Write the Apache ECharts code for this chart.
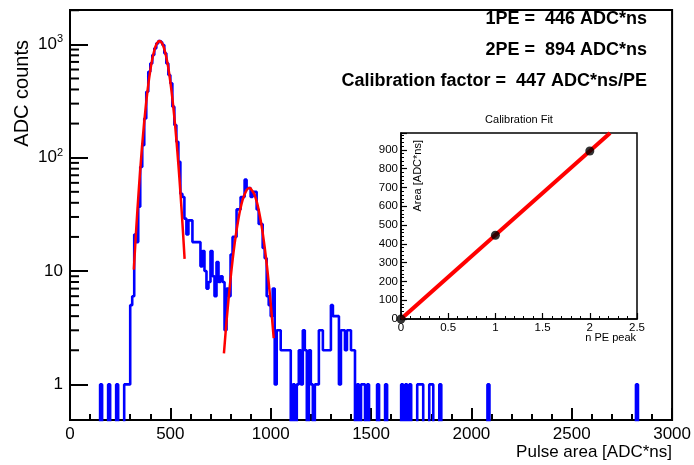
<!DOCTYPE html>
<html><head><meta charset="utf-8">
<script src="https://cdn.jsdelivr.net/npm/echarts@6/dist/echarts.min.js"></script>
<style>html,body{margin:0;padding:0;background:#fff}#c{width:694px;height:465px}</style>
</head><body><div id="c"></div>
<script>
// ---------- data ----------
const binWidth = 10;            // ADC*ns per bin, bins start at 0
const counts = [
  0,0,0,0,0,0,0,0,0,0,
  0,0,0,0,0,1,0,0,0,1,
  0,0,0,1,0,0,0,1,1,1,
  5,6,21,18,37,83,129,222,382,574,
  679,805,922,1021,1071,1034,986,833,679,536,
  453,282,194,138,92,48,45,29,21,28,
  28,18,18,18,18,11,15,10,7,8,
  15,9,6,12,8,9,8,3,7,6,
  14,20,20,35,35,45,45,64,54,54,
  45,50,50,35,26,26,16,13,6,5,
  4,7,1,3,3,2,2,2,2,2,
  0,1,0,1,2,1,3,2,0,2,
  1,0,1,1,3,3,2,2,2,2,
  5,4,4,4,1,3,3,2,3,3,
  2,2,0,1,0,1,1,0,1,0,
  0,0,0,1,0,0,0,1,0,0,
  0,0,0,0,0,1,0,1,0,1,
  0,0,0,1,1,1,0,0,0,1,
  1,0,0,0,1,0,0,0,0,0,
  0,0,0,0,0,0,0,0,0,0,
  0,0,0,0,0,0,0,0,1,0,
  0,0,0,0,0,0,0,0,0,0,
  0,0,0,0,0,0,0,0,0,0,
  0,0,0,0,0,0,0,0,0,0,
  0,0,0,0,0,0,0,0,0,0,
  0,0,0,0,0,0,0,0,0,0,
  0,0,0,0,0,0,0,0,0,0,
  0,0,0,0,0,0,0,0,0,0,
  0,0,1,0,0,0,0,0,0,0,
  0,0,0,0,0,0,0,0,0,0
];
const fit1X = [318,330,340,350,360,370,380,390,400,410,420,430,440,446,450,460,470,480,490,500,510,520,530,540,550,560,571];
const fit1Y = [10.3,23.6,44.3,78.5,131.5,208,311,440,587,741,883,995,1059,1070,1065,1012,909,771,618,468,335,227,145,87.4,49.9,26.9,12.8];
const fit2X = [767,780,800,820,840,860,880,894,900,920,940,960,980,1000,1015];
const fit2Y = [1.88,3.61,8.57,17.3,29.4,42.4,51.8,54,53.6,46.9,34.8,21.8,11.6,5.2,2.56];
const calibN = [0, 1, 2];
const calibArea = [0, 446, 894];
const calibFitX = [0, 2.215];
const calibFitY = [0, 990];
const infoLines = ['1PE =  446 ADC*ns', '2PE =  894 ADC*ns', 'Calibration factor =  447 ADC*ns/PE'];
const xTitle = 'Pulse area [ADC*ns]';
const yTitle = 'ADC counts';
const insetTitle = 'Calibration Fit';
const insetXTitle = 'n PE peak';
const insetYTitle = 'Area [ADC*ns]';

// ---------- build ----------
const FLOOR = 1e-3;
const histData = counts.map((c, i) => [i * binWidth, c > 0 ? c : FLOOR]);
histData.push([counts.length * binWidth, counts[counts.length - 1] > 0 ? counts[counts.length - 1] : FLOOR]);
const fit1 = fit1X.map((x, i) => [x, fit1Y[i]]);
const fit2 = fit2X.map((x, i) => [x, fit2Y[i]]);
const calibPts = calibN.map((x, i) => [x, calibArea[i]]);
const calibLine = calibFitX.map((x, i) => [x, calibFitY[i]]);
const yMax = 2010, yMin = 0.485;
const minorVals = [];
[1, 10, 100, 1000].forEach(d => { for (let m = 2; m <= 9; m++) { if (m * d < yMax && m * d > yMin) minorVals.push([0, m * d]); } });

const FF = '"Liberation Sans", Arial, sans-serif';
const chart = echarts.init(document.getElementById('c'), null, {renderer: 'canvas'});
function logLabel(v) {
  const l = Math.log10(v);
  const r = Math.round(l);
  if (Math.abs(l - r) > 1e-6 || r < 0) return '';
  if (r === 0) return '1';
  if (r === 1) return '10';
  return '10{sup|' + r + '}';
}
const txt = (x, y, text, size, opts) => Object.assign({
  type: 'text', x: x, y: y, z: 100,
  style: Object.assign({text: text, fill: '#000', font: size + 'px ' + FF,
    textAlign: 'left', textVerticalAlign: 'middle', align: 'left', verticalAlign: 'middle'}, opts && opts.style || {})
}, opts && opts.el || {});

chart.setOption({
  animation: false,
  backgroundColor: '#fff',
  grid: [
    {left: 70, top: 10, width: 605, height: 410, show: true, borderColor: '#000', borderWidth: 2, backgroundColor: 'transparent'},
    {left: 401, top: 133, width: 236, height: 186, show: true, borderColor: '#000', borderWidth: 1.5, backgroundColor: '#fff', z: 5}
  ],
  xAxis: [
    {gridIndex: 0, type: 'value', min: 0, max: 3000, interval: 500,
     axisLine: {show: true, lineStyle: {color: '#000', width: 2}},
     axisTick: {show: true, inside: true, length: 12, lineStyle: {color: '#000', width: 2}},
     minorTick: {show: true, splitNumber: 5, length: 6, lineStyle: {color: '#000', width: 2}},
     axisLabel: {color: '#000', fontSize: 17, fontFamily: FF, margin: 6, formatter: v => String(v)},
     splitLine: {show: false}},
    {gridIndex: 1, type: 'value', min: 0, max: 2.5, interval: 0.5, z: 6,
     axisLine: {show: true, lineStyle: {color: '#000', width: 1.5}},
     axisTick: {show: true, inside: true, length: 6, lineStyle: {color: '#000', width: 1.2}},
     minorTick: {show: true, splitNumber: 5, length: 3, lineStyle: {color: '#000', width: 1}},
     axisLabel: {color: '#000', fontSize: 11.5, fontFamily: FF, margin: 3, formatter: v => String(v)},
     splitLine: {show: false}}
  ],
  yAxis: [
    {gridIndex: 0, type: 'log', logBase: 10, min: yMin, max: yMax,
     axisLine: {show: true, lineStyle: {color: '#000', width: 2}},
     axisTick: {show: true, inside: true, length: 18, lineStyle: {color: '#000', width: 2}},
     axisLabel: {color: '#000', fontSize: 17, fontFamily: FF, margin: 7, formatter: logLabel,
       rich: {sup: {fontSize: 11, fontFamily: FF, color: '#000', verticalAlign: 'top', padding: [0, 0, 10, 0]}}},
     splitLine: {show: false}},
    {gridIndex: 1, type: 'value', min: 0, max: 990, interval: 100, z: 6,
     axisLine: {show: true, lineStyle: {color: '#000', width: 1.5}},
     axisTick: {show: true, inside: true, length: 6, lineStyle: {color: '#000', width: 1.2}},
     minorTick: {show: true, splitNumber: 5, length: 3, lineStyle: {color: '#000', width: 1}},
     axisLabel: {color: '#000', fontSize: 11.5, fontFamily: FF, margin: 3,
       formatter: v => (Math.abs(v % 100) < 1e-9 ? String(v) : '')},
     splitLine: {show: false}}
  ],
  series: [
    {type: 'line', xAxisIndex: 0, yAxisIndex: 0, data: histData, step: 'end', symbol: 'none',
     lineStyle: {color: '#0000ff', width: 2.6}, clip: true, z: 2},
    {type: 'line', xAxisIndex: 0, yAxisIndex: 0, data: fit1, symbol: 'none', smooth: 0.3,
     lineStyle: {color: '#ff0000', width: 2.5}, z: 3},
    {type: 'line', xAxisIndex: 0, yAxisIndex: 0, data: fit2, symbol: 'none', smooth: 0.3,
     lineStyle: {color: '#ff0000', width: 2.5}, z: 3},
    {type: 'custom', xAxisIndex: 0, yAxisIndex: 0, data: minorVals, z: 4, silent: true,
     renderItem: (params, api) => {
       const p = api.coord([0, api.value(1)]);
       return {type: 'line', shape: {x1: p[0], y1: p[1], x2: p[0] + 9, y2: p[1]}, style: {stroke: '#000', lineWidth: 2}};
     }},
    {type: 'line', xAxisIndex: 1, yAxisIndex: 1, data: calibLine, symbol: 'none',
     lineStyle: {color: '#ff0000', width: 4}, clip: true, z: 7},
    {type: 'scatter', xAxisIndex: 1, yAxisIndex: 1, data: calibPts, symbolSize: 9,
     itemStyle: {color: '#000'}, z: 8, clip: false}
  ],
  graphic: [
    txt(22, 40, yTitle, 20, {el: {rotation: Math.PI / 2}, style: {textAlign: 'right', align: 'right'}}),
    txt(672, 452, xTitle, 17, {style: {textAlign: 'right', align: 'right'}}),
    txt(647, 19, infoLines[0], 18, {style: {textAlign: 'right', align: 'right', font: 'bold 18px ' + FF}}),
    txt(647, 50.5, infoLines[1], 18, {style: {textAlign: 'right', align: 'right', font: 'bold 18px ' + FF}}),
    txt(647, 81.5, infoLines[2], 18, {style: {textAlign: 'right', align: 'right', font: 'bold 18px ' + FF}}),
    txt(519, 120, insetTitle, 11, {style: {textAlign: 'center', align: 'center'}}),
    txt(418, 140, insetYTitle, 11, {el: {rotation: Math.PI / 2}, style: {textAlign: 'right', align: 'right'}}),
    txt(636, 338, insetXTitle, 11, {style: {textAlign: 'right', align: 'right'}})
  ]
});
</script>
</body></html>
